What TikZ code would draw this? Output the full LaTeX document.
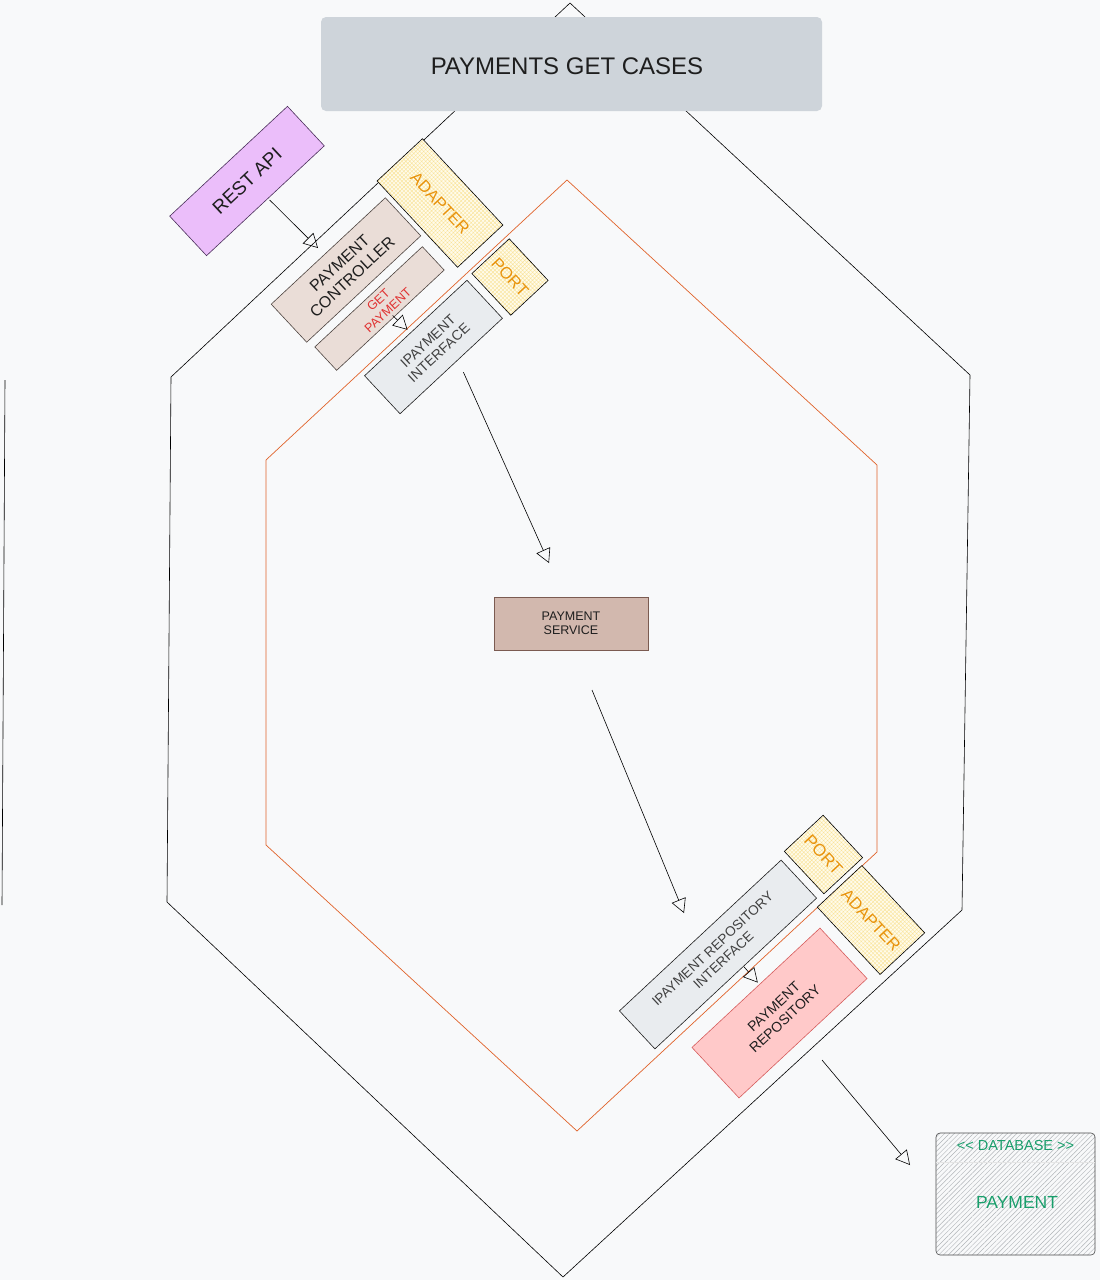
\documentclass[tikz,border=0pt]{standalone}
\usepackage{fontspec}
\setmainfont{Liberation Sans}
\usetikzlibrary{arrows.meta,patterns.meta,calc}

\definecolor{bg}{HTML}{F8F9FA}
\definecolor{ink}{HTML}{1E1E1E}
\definecolor{titlefill}{HTML}{CED4DA}
\definecolor{restfill}{HTML}{EBBEFA}
\definecolor{restline}{HTML}{4A2F5A}
\definecolor{ctrlfill}{HTML}{EADDD7}
\definecolor{ctrlline}{HTML}{4E4440}
\definecolor{ifacefill}{HTML}{E9ECEF}
\definecolor{servfill}{HTML}{D2B8AE}
\definecolor{servline}{HTML}{7B5B51}
\definecolor{repofill}{HTML}{FFC9C9}
\definecolor{repoline}{HTML}{D65C5C}
\definecolor{adfill}{HTML}{FFFBEA}
\definecolor{adhatch}{HTML}{F9E39A}
\definecolor{adtext}{HTML}{E8930C}
\definecolor{redtext}{HTML}{E03131}
\definecolor{dbtext}{HTML}{199E6B}
\definecolor{dbhatch}{HTML}{B0B4B8}
\definecolor{core}{HTML}{E0622A}

\tikzset{
  card/.style={draw, line width=0.6pt, inner sep=0pt, align=center, text=ink},
  adapterbox/.style={card, preaction={fill=adfill},
    pattern={Hatch[angle=45,distance=2.8pt,line width=0.4pt]}, pattern color=adhatch,
    text=adtext},
  arr/.style={line width=0.6pt, -{Triangle[open,length=14pt,width=15pt]}},
  fs/.style 2 args={font=\fontsize{#1}{#2}\selectfont}
}

\begin{document}
\begin{tikzpicture}[x=1pt,y=-1pt]
  % canvas
  \fill[bg] (0,0) rectangle (1100,1280);
  \useasboundingbox (0,0) rectangle (1100,1280);

  % stray vertical stroke at the left
  \draw[line width=0.6pt] (5,380) -- (2,905);

  % outer hexagon (infrastructure ring)
  \draw[line width=0.6pt] (570,3) -- (970,375) -- (962,910) -- (563,1277)
    -- (167,902) -- (171,377) -- cycle;

  % inner hexagon (application core)
  \draw[core, line width=0.7pt] (567,180) -- (877,465) -- (877,852) -- (577,1131)
    -- (266,845) -- (266,460) -- cycle;

  % title
  \node[fill=titlefill, rounded corners=5pt, minimum width=501pt, minimum height=94pt,
        inner sep=0pt, fs={24}{28}] (titlebox) at (571.5,64) {};
  \node[text=ink, fs={24}{28}] (title) at (567,66) {PAYMENTS GET CASES};

  % driving side
  \node[card, fill=restfill, draw=restline, rotate=43, minimum width=161pt,
        minimum height=54pt, fs={19}{22}] (rest) at (247,181) {REST API};
  \node[adapterbox, rotate=-47, minimum width=118pt, minimum height=62pt, fs={16.5}{19}]
        (adapterA) at (440,203) {ADAPTER};
  \node[card, fill=ctrlfill, draw=ctrlline, rotate=43, minimum width=156pt,
        minimum height=52pt, fs={16}{18.5}] (ctrl) at (346,270) {PAYMENT\\CONTROLLER};
  \node[card, fill=ctrlfill, draw=ctrlline, rotate=43, minimum width=147pt,
        minimum height=32pt, fs={12.5}{14}, text=redtext] (get) at (379.5,308.5)
        {\hspace*{10pt}GET\\\hspace*{10pt}PAYMENT};
  \node[adapterbox, rotate=-47, minimum width=57pt, minimum height=51pt, fs={16.5}{19}]
        (portA) at (510,277) {PORT};
  \node[card, fill=ifacefill, draw=ink, rotate=43, minimum width=140pt,
        minimum height=52pt, fs={14}{16}, text=ink!85] (iface) at (433.5,347) {IPAYMENT\\INTERFACE};

  % core service
  \node[card, fill=servfill, draw=servline, minimum width=154pt, minimum height=53pt,
        fs={12.5}{14}] (service) at (571,623.5) {PAYMENT\\SERVICE};

  % driven side
  \node[adapterbox, rotate=-47, minimum width=58pt, minimum height=53pt, fs={17}{19}]
        (portB) at (823.5,854.5) {PORT};
  \node[adapterbox, rotate=-47, minimum width=92pt, minimum height=61pt, fs={16.5}{19}]
        (adapterB) at (871,920) {ADAPTER};
  \node[card, fill=ifacefill, draw=ink, rotate=43, minimum width=221pt,
        minimum height=52pt, fs={13.6}{16}, text=ink!85] (riface) at (718,954.5)
        {IPAYMENT REPOSITORY\\INTERFACE};
  \node[card, fill=repofill, draw=repoline, rotate=43, minimum width=175pt,
        minimum height=69pt, fs={14}{16.5}] (repo) at (779.5,1013) {PAYMENT\\REPOSITORY};

  % database
  \node[draw=ink!80, line width=0.6pt, rounded corners=4pt, preaction={fill=bg},
        pattern={Lines[angle=45,distance=3.4pt,line width=0.45pt]}, pattern color=dbhatch,
        minimum width=159pt, minimum height=122pt, inner sep=0pt] (db) at (1015.5,1194) {};
  \draw[white!80!gray, line width=0.6pt] ($(db.north west)+(0,30)$) -- ($(db.north east)+(0,30)$);
  \node[text=dbtext, fs={14.5}{16}] (dbtag) at (1015.5,1145) {<\kern0pt< DATABASE >\kern0pt>};
  \node[text=dbtext, fs={17.5}{20}] (dbname) at (1017,1202) {PAYMENT};

  % free ends of the connectors
  \coordinate (ctrlIn) at (318,248);
  \coordinate (servIn) at (549,563);
  \coordinate (servOut) at (592,690);
  \coordinate (rifaceIn) at (684,913);
  \coordinate (repoOut) at (822,1060);
  \coordinate (dbIn) at (910,1165);

  % connectors
  \draw[arr] ($(rest.south)+(4,-1)$) -- (ctrlIn);
  \draw[arr] ($(get.south)+(2,-5)$) -- ($(iface.north)+(-8,2)$);
  \draw[arr] ($(iface.south)+(12,6)$) -- (servIn);
  \draw[arr] (servOut) -- (rifaceIn);
  \draw[arr] ($(riface.south)+(8,-7)$) -- ($(repo.north)+(2,-5)$);
  \draw[arr] (repoOut) -- (dbIn);
\end{tikzpicture}
\end{document}
